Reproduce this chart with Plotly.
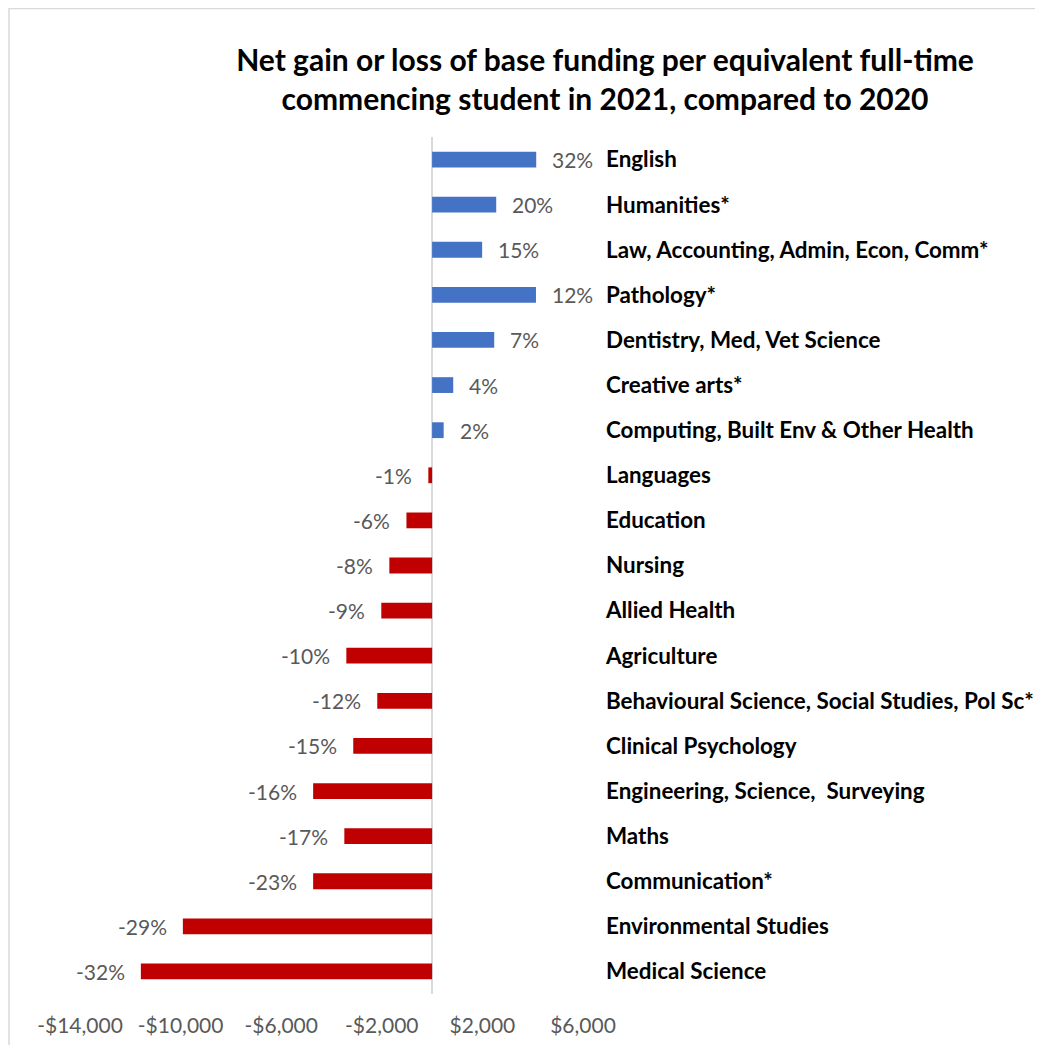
import plotly.graph_objects as go

categories = [
    "English", "Humanities*", "Law, Accounting, Admin, Econ, Comm*", "Pathology*",
    "Dentistry, Med, Vet Science", "Creative arts*", "Computing, Built Env & Other Health",
    "Languages", "Education", "Nursing", "Allied Health", "Agriculture",
    "Behavioural Science, Social Studies, Pol Sc*", "Clinical Psychology",
    "Engineering, Science,\u00a0 Surveying", "Maths", "Communication*",
    "Environmental Studies", "Medical Science",
]
funding_change = [
    4140, 2550, 1990, 4130, 2470, 840, 460,
    -150, -1020, -1700, -2020, -3410, -2180, -3135,
    -4730, -3490, -4730, -9910, -11580,
]
pct_labels = [
    "32%", "20%", "15%", "12%", "7%", "4%", "2%",
    "-1%", "-6%", "-8%", "-9%", "-10%", "-12%", "-15%",
    "-16%", "-17%", "-23%", "-29%", "-32%",
]
tick_values = [-14000, -10000, -6000, -2000, 2000, 6000]
tick_labels = ["-$14,000", "-$10,000", "-$6,000", "-$2,000", "$2,000", "$6,000"]

BLUE = "#4472C4"
RED = "#C00000"
GRAY = "#595959"
FONT = "Lato"

W, H = 1027, 1037
ML, MR, MT, MB = 72, 452, 129, 51
PW, PH = W - ML - MR, H - MT - MB

colors = [BLUE if v >= 0 else RED for v in funding_change]

fig = go.Figure()
fig.add_trace(go.Bar(
    x=funding_change, y=categories, orientation="h",
    marker=dict(color=colors, line=dict(width=0)),
    width=0.35, hoverinfo="skip",
))

for v, c, t in zip(funding_change, categories, pct_labels):
    fig.add_annotation(
        x=v, y=c, text=t, showarrow=False,
        xanchor="left" if v >= 0 else "right",
        xshift=14 if v >= 0 else -14,
        yshift=0,
        font=dict(family=FONT, size=21, color=GRAY),
    )

# chart border (left and top visible)
fig.add_shape(
    type="rect", xref="paper", yref="paper",
    x0=(-ML + 1) / PW, x1=(W - ML + 20) / PW,
    y0=-(MB + 20) / PH, y1=1 + (MT - 0.5) / PH,
    line=dict(color="#D9D9D9", width=1.5), layer="below",
)

fig.update_layout(
    width=W, height=H,
    margin=dict(l=ML, r=MR, t=MT, b=MB, pad=0, autoexpand=False),
    paper_bgcolor="white", plot_bgcolor="white",
    showlegend=False,
    font=dict(family=FONT, color=GRAY),
    title=dict(
        text="<b>Net gain or loss of base funding per equivalent full-time<br>commencing student in 2021, compared to 2020</b>",
        x=597 / W, xref="container", xanchor="center",
        y=1 - 63 / H, yref="container", yanchor="middle",
        font=dict(family=FONT, size=30, color="black"),
        automargin=False,
    ),
    xaxis=dict(
        range=[-14000, 6000], tickvals=tick_values, ticktext=tick_labels,
        showgrid=False, zeroline=True, zerolinecolor="#D9D9D9", zerolinewidth=1.5,
        showline=False, ticks="", tickfont=dict(family=FONT, size=21, color=GRAY),
        ticklabelstandoff=17, fixedrange=True, automargin=False,
    ),
    yaxis=dict(
        categoryorder="array", categoryarray=categories, autorange="reversed",
        side="right", showgrid=False, showline=False, ticks="",
        tickfont=dict(family=FONT, size=22.4, color="black", weight="bold"),
        ticklabelstandoff=22, fixedrange=True, automargin=False,
    ),
)

fig.write_html("out.html", config={"displayModeBar": False})
